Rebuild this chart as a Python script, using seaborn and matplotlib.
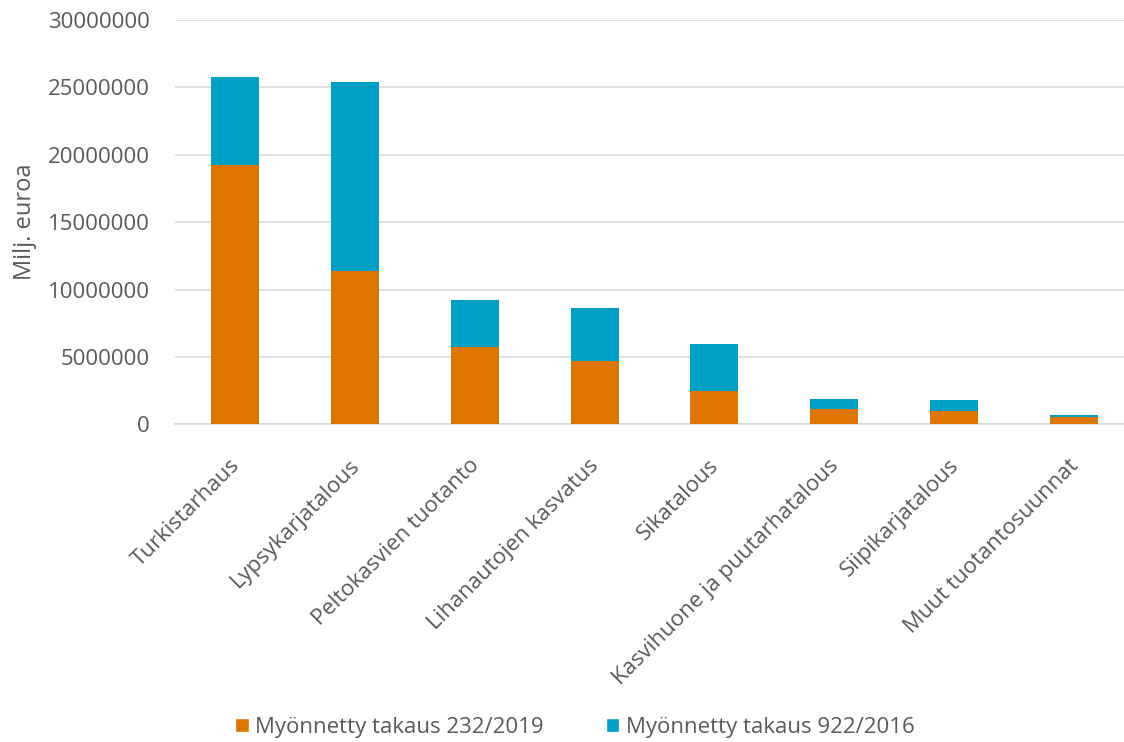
import matplotlib
matplotlib.use("Agg")
import matplotlib.pyplot as plt
import matplotlib.transforms as mtransforms
import seaborn as sns
import pandas as pd
from matplotlib.patches import Patch
from matplotlib.ticker import FuncFormatter

categories = ["Turkistarhaus", "Lypsykarjatalous", "Peltokasvien tuotanto",
              "Lihanautojen kasvatus", "Sikatalous", "Kasvihuone ja puutarhatalous",
              "Siipikarjatalous", "Muut tuotantosuunnat"]
takaus_232_2019 = [19210000, 11370000, 5730000, 4720000, 2470000, 1110000, 990000, 560000]
takaus_922_2016 = [6530000, 14050000, 3510000, 3880000, 3490000, 740000, 810000, 110000]
series_names = ["Myönnetty takaus 232/2019", "Myönnetty takaus 922/2016"]
yticks = [0, 5000000, 10000000, 15000000, 20000000, 25000000, 30000000]

orange = "#DD7500"
blue = "#00A0C6"
text_col = "#595959"

sns.set_theme(style="white")
plt.rcParams['font.family'] = ['Open Sans', 'DejaVu Sans']

df = pd.DataFrame({"cat": categories,
                   "s1": takaus_232_2019,
                   "s2": takaus_922_2016})
df["total"] = df["s1"] + df["s2"]

fig = plt.figure(figsize=(11.24, 7.42), dpi=100)
ax = fig.add_axes([175/1124, 1-424.3/742, (1134-175)/1124, (424.3-20)/742])

sns.barplot(data=df, x="cat", y="total", color=blue, width=0.4, ax=ax,
            saturation=1, zorder=3, linewidth=0)
sns.barplot(data=df, x="cat", y="s1", color=orange, width=0.4, ax=ax,
            saturation=1, zorder=4, linewidth=0)

ax.set_ylim(0, 30000000)
ax.set_yticks(yticks)
ax.yaxis.set_major_formatter(FuncFormatter(lambda v, p: f"{int(v)}"))
ax.grid(axis="y", color="#D9D9D9", linewidth=1.2, zorder=0)
ax.set_axisbelow(True)
for s in ["top", "right", "left"]:
    ax.spines[s].set_visible(False)
ax.spines["bottom"].set_color("#D9D9D9")
ax.spines["bottom"].set_linewidth(1.2)
ax.tick_params(axis="both", length=0, colors=text_col, labelsize=16)
ax.tick_params(axis="y", pad=18)
ax.tick_params(axis="x", pad=22)
ax.set_xlabel("")
ax.set_ylabel("Milj. euroa", color=text_col, fontsize=17, labelpad=8)
ax.set_xticks(range(len(categories)))
ax.set_xticklabels(categories, rotation=45, ha="right", va="top",
                   rotation_mode="anchor", color=text_col, fontsize=16)
ax.set_xlim(-0.5, len(categories) - 0.5)
offset = mtransforms.ScaledTranslation(-6/100, 0, fig.dpi_scale_trans)
for lbl in ax.get_xticklabels():
    lbl.set_transform(lbl.get_transform() + offset)

handles = [Patch(facecolor=orange, label=series_names[0]),
           Patch(facecolor=blue, label=series_names[1])]
fig.legend(handles=handles, loc="center", bbox_to_anchor=(575/1124, 1-727/742),
           ncol=2, frameon=False, fontsize=16, handlelength=0.6, handleheight=0.6,
           handletextpad=0.3, columnspacing=2.8, labelcolor=text_col)

fig.savefig("out.png", dpi=100)
